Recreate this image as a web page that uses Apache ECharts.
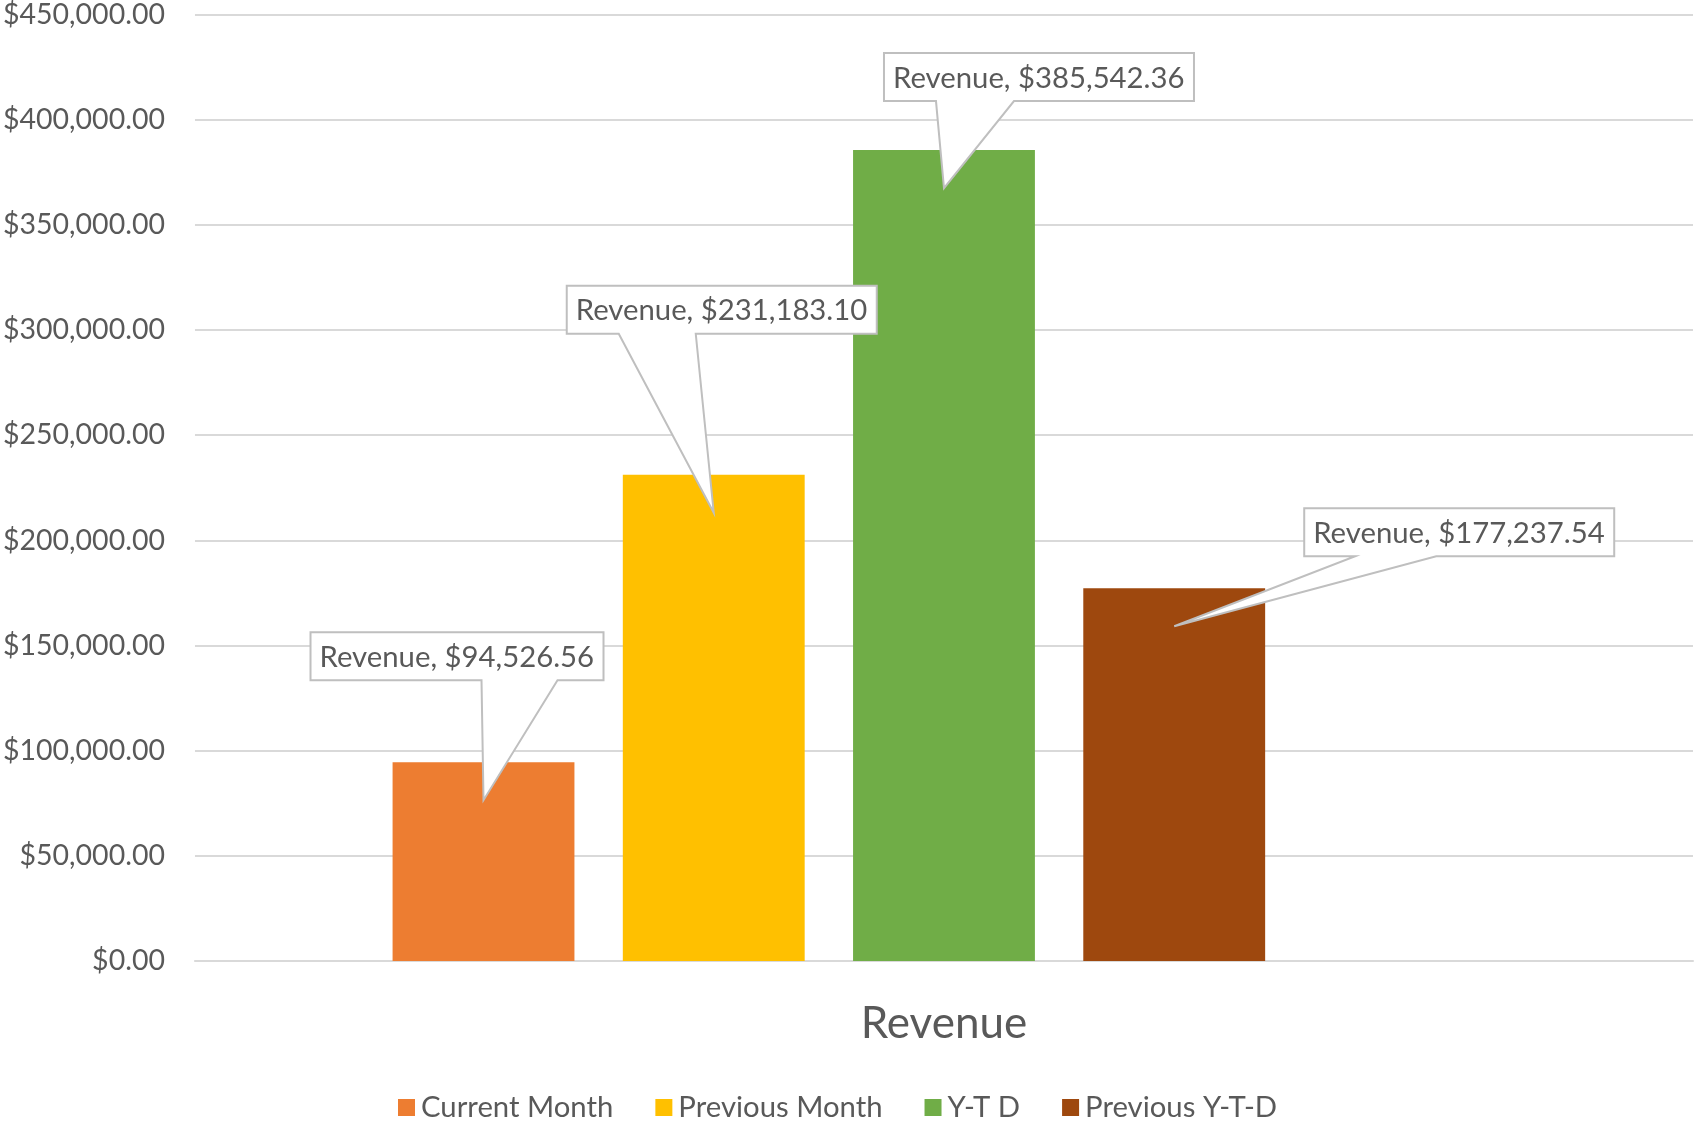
<!DOCTYPE html>
<html>
<head>
<meta charset="utf-8">
<script src="https://cdn.jsdelivr.net/npm/echarts@6/dist/echarts.min.js"></script>
<style>
  html, body { margin: 0; padding: 0; background: #fff; }
  #chart { width: 1695px; height: 1125px; }
</style>
</head>
<body>
<div id="chart"></div>
<script>
// data
const categories = ['Revenue']
const seriesNames = ['Current Month', 'Previous Month', 'Y-T D', 'Previous Y-T-D']
const revenue = [94526.56, 231183.10, 385542.36, 177237.54]
const yTicks = { min: 0, max: 450000, interval: 50000 }

const colors = ['#ED7D31', '#FFC000', '#70AD47', '#9E480E']
const FONT = 'Lato, "Open Sans", sans-serif'
const TEXT = '#595959'

// bar geometry, shared by the bars and the callouts
const BAR_W = 0.1214   // of category band
const BAR_GAP = 0.266  // of bar width
const N_SLOTS = 5      // excel kept an empty 5th slot

// callout layout: box offset from the pointer tip, wedge base inside the box
const callouts = [
  { dx: -173, dy: -168, w0: 171, w1: 247 },
  { dx: -147, dy: -227, w0: 52, w1: 129 },
  { dx: -60, dy: -135, w0: 52, w1: 130 },
  { dx: 130, dy: -118, w0: 51, w1: 132 }
]
const TIP_DROP = 38

function money(v) {
  return '$' + v.toLocaleString('en-US', { minimumFractionDigits: 2, maximumFractionDigits: 2 })
}

const measure = document.createElement('canvas').getContext('2d')
const labelFont = '29.3px ' + FONT
function textWidth(s) {
  measure.font = labelFont
  return measure.measureText(s).width
}

function renderCallout(params, api) {
  const i = api.value(2)
  const v = api.value(1)
  const top = api.coord([api.value(0), v])
  const band = api.size([1, 0])[0]
  const bw = band * BAR_W
  const step = bw * (1 + BAR_GAP)
  const cx = top[0] + (i - (N_SLOTS - 1) / 2) * step
  const tip = [cx, top[1] + TIP_DROP]

  const c = callouts[i]
  const text = 'Revenue, ' + money(v)
  const pad = 9
  const W = Math.round(textWidth(text) + pad * 2)
  const H = 48
  const L = tip[0] + c.dx
  const T = tip[1] + c.dy
  const pts = [
    [L, T], [L + W, T], [L + W, T + H],
    [L + c.w1, T + H], tip, [L + c.w0, T + H], [L, T + H]
  ]
  return {
    type: 'group',
    children: [
      {
        type: 'polygon',
        shape: { points: pts },
        style: { fill: '#fff', stroke: '#bfbfbf', lineWidth: 2 }
      },
      {
        type: 'text',
        style: {
          text: text, x: L + pad, y: T + H / 2 + 1,
          font: labelFont, fill: TEXT,
          textAlign: 'left', textVerticalAlign: 'middle'
        }
      }
    ]
  }
}

const barSeries = seriesNames.map((name, i) => ({
  name: name,
  type: 'bar',
  barWidth: (BAR_W * 100) + '%',
  barGap: (BAR_GAP * 100) + '%',
  itemStyle: { color: colors[i] },
  data: [revenue[i]]
}))
// empty slot so the group sits left of centre like the original
barSeries.push({
  name: '_empty', type: 'bar',
  barWidth: (BAR_W * 100) + '%', barGap: (BAR_GAP * 100) + '%',
  data: [null]
})

const chart = echarts.init(document.getElementById('chart'))
chart.setOption({
  animation: false,
  textStyle: { fontFamily: FONT },
  grid: { left: 194, right: 2, top: 13, bottom: 164 },
  legend: {
    data: seriesNames,
    left: 393, bottom: -2,
    itemWidth: 17, itemHeight: 17, itemGap: 42,
    icon: 'rect',
    textStyle: { color: TEXT, fontSize: 29.3, fontFamily: FONT, padding: [0, 0, 0, 1] }
  },
  xAxis: {
    type: 'category',
    data: categories,
    axisLine: { lineStyle: { color: '#d9d9d9', width: 2 } },
    axisTick: { show: false },
    axisLabel: { color: TEXT, fontSize: 44, margin: 37, fontFamily: FONT, lineHeight: 52 }
  },
  yAxis: {
    type: 'value',
    min: yTicks.min, max: yTicks.max, interval: yTicks.interval,
    axisLine: { show: false },
    axisTick: { show: false },
    splitLine: { lineStyle: { color: '#d9d9d9', width: 2 } },
    axisLabel: { color: TEXT, fontSize: 28.5, margin: 30, fontFamily: FONT, formatter: v => money(v) }
  },
  series: [
    ...barSeries,
    {
      type: 'custom',
      z: 10,
      renderItem: renderCallout,
      data: revenue.map((v, i) => [categories[0], v, i])
    }
  ]
})
</script>
</body>
</html>
